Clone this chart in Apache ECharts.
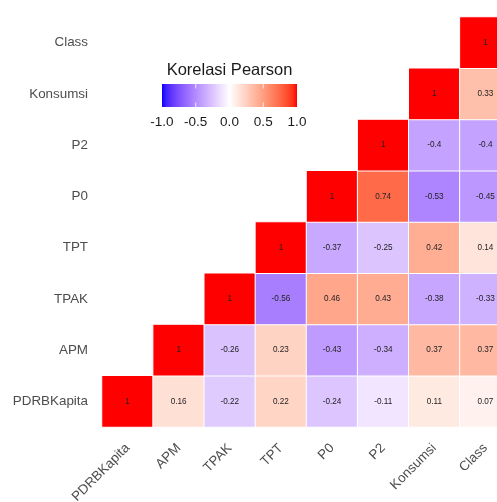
<!DOCTYPE html>
<html>
<head>
<meta charset="utf-8">
<script src="https://cdn.jsdelivr.net/npm/echarts@6/dist/echarts.min.js"></script>
<style>
  html, body { margin: 0; padding: 0; background: #ffffff; }
  #chart { width: 497px; height: 502px; }
</style>
</head>
<body>
<div id="chart"></div>
<script>
// Variables, in axis order (x left→right, y bottom→top)
const variables = ['PDRBKapita', 'APM', 'TPAK', 'TPT', 'P0', 'P2', 'Konsumsi', 'Class'];

// Pearson correlations: each row starts at the diagonal and runs to the right
const corrPDRBKapita = [1, 0.16, -0.22, 0.22, -0.24, -0.11, 0.11, 0.07];
const corrAPM        = [1, -0.26, 0.23, -0.43, -0.34, 0.37, 0.37];
const corrTPAK       = [1, -0.56, 0.46, 0.43, -0.38, -0.33];
const corrTPT        = [1, -0.37, -0.25, 0.42, 0.14];
const corrP0         = [1, 0.74, -0.53, -0.45];
const corrP2         = [1, -0.4, -0.4];
const corrKonsumsi   = [1, 0.33];
const corrClass      = [1];

// Colour bar tick labels
const legendTicks = [-1.0, -0.5, 0.0, 0.5, 1.0];

const corrRows = [corrPDRBKapita, corrAPM, corrTPAK, corrTPT, corrP0, corrP2, corrKonsumsi, corrClass];

// ---- diverging blue / white / red gradient interpolated in CIE Lab ----
function srgbToLin(c) { c /= 255; return c <= 0.04045 ? c / 12.92 : Math.pow((c + 0.055) / 1.055, 2.4); }
function linToSrgb(c) { c = c <= 0.0031308 ? 12.92 * c : 1.055 * Math.pow(c, 1 / 2.4) - 0.055; return Math.max(0, Math.min(255, Math.round(c * 255))); }
const WX = 0.95047, WY = 1.0, WZ = 1.08883;
function fLab(t) { return t > 216 / 24389 ? Math.cbrt(t) : (24389 / 27 * t + 16) / 116; }
function fInv(t) { const t3 = t * t * t; return t3 > 216 / 24389 ? t3 : (116 * t - 16) / (24389 / 27); }
function rgbToLab(r, g, b) {
  const R = srgbToLin(r), G = srgbToLin(g), B = srgbToLin(b);
  const X = R * 0.4124564 + G * 0.3575761 + B * 0.1804375;
  const Y = R * 0.2126729 + G * 0.7151522 + B * 0.0721750;
  const Z = R * 0.0193339 + G * 0.1191920 + B * 0.9503041;
  const fx = fLab(X / WX), fy = fLab(Y / WY), fz = fLab(Z / WZ);
  return [116 * fy - 16, 500 * (fx - fy), 200 * (fy - fz)];
}
function labToRgb(L, a, b) {
  const fy = (L + 16) / 116, fx = fy + a / 500, fz = fy - b / 200;
  const X = fInv(fx) * WX, Y = fInv(fy) * WY, Z = fInv(fz) * WZ;
  const R = X * 3.2404542 - Y * 1.5371385 - Z * 0.4985314;
  const G = -X * 0.9692660 + Y * 1.8760108 + Z * 0.0415560;
  const B = X * 0.0556434 - Y * 0.2040259 + Z * 1.0572252;
  return 'rgb(' + linToSrgb(R) + ',' + linToSrgb(G) + ',' + linToSrgb(B) + ')';
}
const labLow = rgbToLab(0, 0, 255), labMid = rgbToLab(255, 255, 255), labHigh = rgbToLab(255, 0, 0);
function divColor(v) {
  const to = v < 0 ? labLow : labHigh;
  const t = Math.abs(v);
  return labToRgb(labMid[0] + (to[0] - labMid[0]) * t, labMid[1] + (to[1] - labMid[1]) * t, labMid[2] + (to[2] - labMid[2]) * t);
}
const STOPS = 40;
const gradientColors = [];
const gradientStops = [];
for (let i = 0; i <= STOPS; i++) {
  const v = -1 + 2 * i / STOPS;
  const c = divColor(v);
  gradientColors.push(c);
  gradientStops.push({ offset: i / STOPS, color: c });
}

// ---- heatmap cells (upper triangle) ----
const cells = [];
corrRows.forEach((row, y) => {
  row.forEach((v, k) => { cells.push([y + k, y, v]); });
});

// ---- colour bar ----
const FONT = '"Liberation Sans", Arial, sans-serif';
const barX = 162, barY = 84, barW = 135, barH = 23;
const legendGraphics = [
  { type: 'text', x: 229.5, y: 70, style: { text: 'Korelasi Pearson', align: 'center', verticalAlign: 'middle',
      font: '16.5px ' + FONT, fill: '#1a1a1a' } },
  { type: 'rect', shape: { x: barX, y: barY, width: barW, height: barH },
    style: { fill: new echarts.graphic.LinearGradient(0, 0, 1, 0, gradientStops) } }
];
legendTicks.forEach(t => {
  const px = barX + (t + 1) / 2 * barW;
  if (t > -1 && t < 1) {
    legendGraphics.push({ type: 'line', shape: { x1: px, y1: barY, x2: px, y2: barY + 4.5 }, style: { stroke: 'rgba(255,255,255,0.8)', lineWidth: 1 } });
    legendGraphics.push({ type: 'line', shape: { x1: px, y1: barY + barH - 4.5, x2: px, y2: barY + barH }, style: { stroke: 'rgba(255,255,255,0.8)', lineWidth: 1 } });
  }
  legendGraphics.push({ type: 'text', x: px, y: 122, style: { text: t.toFixed(1), align: 'center', verticalAlign: 'middle',
    font: '13.5px ' + FONT, fill: '#1a1a1a' } });
});

const chart = echarts.init(document.getElementById('chart'), null, { renderer: 'canvas' });
chart.setOption({
  backgroundColor: '#ffffff',
  animation: false,
  grid: { left: 102, top: 17, width: 409, height: 410, containLabel: false, outerBoundsMode: 'none' },
  xAxis: {
    type: 'category', data: variables,
    axisLine: { show: false }, axisTick: { show: false }, splitLine: { show: false },
    axisLabel: { rotate: 45, margin: 19, interval: 0, color: '#4d4d4d', fontSize: 13.4, fontFamily: FONT }
  },
  yAxis: {
    type: 'category', data: variables,
    axisLine: { show: false }, axisTick: { show: false }, splitLine: { show: false },
    axisLabel: { margin: 14, interval: 0, color: '#4d4d4d', fontSize: 13.4, fontFamily: FONT }
  },
  visualMap: { show: false, type: 'continuous', min: -1, max: 1, dimension: 2, inRange: { color: gradientColors } },
  graphic: legendGraphics,
  series: [{
    type: 'heatmap',
    data: cells,
    itemStyle: { borderColor: '#ffffff', borderWidth: 1 },
    label: { show: true, formatter: p => String(p.value[2]), color: '#222222', fontSize: 8.2, fontFamily: FONT },
    emphasis: { disabled: true }
  }]
});
</script>
</body>
</html>
